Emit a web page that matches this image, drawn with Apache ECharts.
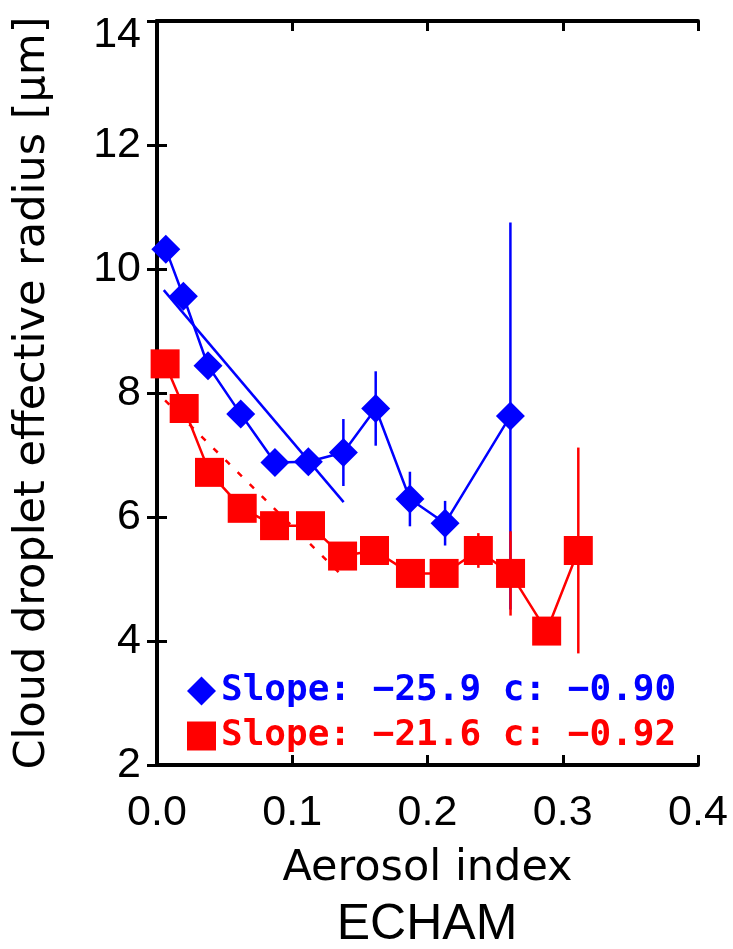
<!DOCTYPE html>
<html>
<head>
<meta charset="utf-8">
<script src="https://cdn.jsdelivr.net/npm/echarts@6/dist/echarts.min.js"></script>
<style>
  html, body { margin: 0; padding: 0; background: #fff; }
  #chart { width: 733px; height: 949px; }
</style>
</head>
<body>
<div id="chart"></div>
<script>
// ECHAM blue (diamonds) and red (squares) samples
const blueX = [0.0065, 0.0195, 0.0377, 0.0619, 0.0872, 0.1119, 0.1378, 0.1617, 0.187, 0.213, 0.2613];
const blueY = [10.32, 9.56, 8.44, 7.66, 6.88, 6.89, 7.04, 7.75, 6.29, 5.9, 7.63];
const blueErr = [0, 0, 0, 0, 0, 0, 0.54, 0.6, 0.44, 0.36, 3.12];

const redX = [0.006, 0.0201, 0.0388, 0.063, 0.0869, 0.1135, 0.1372, 0.1608, 0.1874, 0.2123, 0.2376, 0.2614, 0.2881, 0.3115];
const redY = [8.47, 7.75, 6.72, 6.14, 5.86, 5.86, 5.37, 5.46, 5.09, 5.09, 5.46, 5.09, 4.16, 5.46];
const redErr = [0, 0, 0, 0, 0, 0, 0, 0, 0, 0, 0.28, 0.68, 0, 1.66];

// regression lines (end points)
const blueFitX = [0.005, 0.138];
const blueFitY = [9.66, 6.24];
const redFitX = [0.006, 0.138];
const redFitY = [7.88, 5.03];

const blueLabel = "Slope: \u221225.9 c: \u22120.90";
const redLabel = "Slope: \u221221.6 c: \u22120.92";

const xTicks = ["0.0", "0.1", "0.2", "0.3", "0.4"];

const BLUE = "#0000ff";
const RED = "#ff0000";
const NUM_FONT = "Liberation Sans";
const TITLE_FONT = "DejaVu Sans";

function pairs(xs, ys) {
  return xs.map((x, i) => [x, ys[i]]);
}

// vertical error bars, no caps
function errorSeries(xs, ys, errs, color) {
  return {
    type: "custom",
    silent: true,
    data: xs.map((x, i) => [x, ys[i], errs[i]]).filter(d => d[2] > 0),
    renderItem: (params, api) => {
      const lo = api.coord([api.value(0), api.value(1) - api.value(2)]);
      const hi = api.coord([api.value(0), api.value(1) + api.value(2)]);
      return {
        type: "line",
        shape: { x1: lo[0], y1: lo[1], x2: hi[0], y2: hi[1] },
        style: { stroke: color, lineWidth: 2.5 }
      };
    }
  };
}

const chartInstance = echarts.init(document.getElementById("chart"));

const frameLine = { lineStyle: { color: "#000", width: 4 } };
const frameTick = { inside: true, length: 10, lineStyle: { color: "#000", width: 3 } };

const initOption = {
  animation: false,
  backgroundColor: "#fff",
  grid: { left: 157, top: 21, width: 541, height: 744, outerBoundsMode: "none" },
  xAxis: [
    {
      type: "value",
      min: 0,
      max: 0.4,
      interval: 0.1,
      position: "bottom",
      name: "Aerosol index",
      nameLocation: "middle",
      nameGap: 82,
      nameTextStyle: { fontFamily: TITLE_FONT, fontSize: 43, color: "#000" },
      axisLine: frameLine,
      axisTick: frameTick,
      splitLine: { show: false },
      axisLabel: {
        margin: 27,
        fontFamily: NUM_FONT,
        fontSize: 43,
        color: "#000",
        formatter: (v) => xTicks[Math.round(v * 10)]
      }
    },
    {
      type: "value",
      min: 0,
      max: 0.4,
      interval: 0.1,
      position: "top",
      axisLine: frameLine,
      axisTick: frameTick,
      splitLine: { show: false },
      axisLabel: { show: false }
    }
  ],
  yAxis: [
    {
      type: "value",
      min: 2,
      max: 14,
      interval: 2,
      position: "left",
      name: "Cloud droplet effective radius [\u03bcm]",
      nameLocation: "middle",
      nameGap: 103,
      nameTextStyle: { fontFamily: TITLE_FONT, fontSize: 43, color: "#000" },
      axisLine: frameLine,
      axisTick: frameTick,
      splitLine: { show: false },
      axisLabel: {
        margin: 16,
        fontFamily: NUM_FONT,
        fontSize: 43,
        color: "#000",
        // top label sits just below the frame corner
        formatter: (v) => (v === 14 ? "{top|14}" : String(v)),
        rich: { top: { fontFamily: NUM_FONT, fontSize: 43, padding: [28, 0, 0, 0] } }
      }
    },
    {
      type: "value",
      min: 2,
      max: 14,
      interval: 2,
      position: "right",
      axisLine: frameLine,
      axisTick: frameTick,
      splitLine: { show: false },
      axisLabel: { show: false }
    }
  ],
  legend: {
    orient: "vertical",
    left: 182,
    top: 668,
    itemWidth: 29,
    itemHeight: 29,
    itemGap: 9,
    selectedMode: false,
    textStyle: {
      fontFamily: "DejaVu Sans Mono",
      fontWeight: "bold",
      fontSize: 36
    },
    data: [
      { name: blueLabel, icon: "diamond", textStyle: { color: BLUE } },
      { name: redLabel, icon: "rect", textStyle: { color: RED } }
    ]
  },
  graphic: [
    {
      type: "text",
      x: 427,
      y: 925,
      style: {
        text: "ECHAM",
        fontFamily: NUM_FONT,
        fontSize: 50,
        fill: "#000",
        textAlign: "center",
        textVerticalAlign: "middle"
      }
    }
  ],
  series: [
    {
      name: blueLabel,
      type: "line",
      data: pairs(blueX, blueY),
      symbol: "diamond",
      symbolSize: 29,
      color: BLUE,
      lineStyle: { color: BLUE, width: 2.5 },
      itemStyle: { color: BLUE }
    },
    errorSeries(blueX, blueY, blueErr, BLUE),
    {
      name: "blueFit",
      type: "line",
      data: pairs(blueFitX, blueFitY),
      showSymbol: false,
      lineStyle: { color: BLUE, width: 2.5 }
    },
    {
      name: redLabel,
      type: "line",
      data: pairs(redX, redY),
      symbol: "rect",
      symbolSize: 29,
      color: RED,
      lineStyle: { color: RED, width: 2.5 },
      itemStyle: { color: RED }
    },
    errorSeries(redX, redY, redErr, RED),
    {
      name: "redFit",
      type: "line",
      data: pairs(redFitX, redFitY),
      showSymbol: false,
      lineStyle: { color: RED, width: 2.5, type: [6, 11] }
    }
  ]
};

chartInstance.setOption(initOption);
</script>
</body>
</html>
